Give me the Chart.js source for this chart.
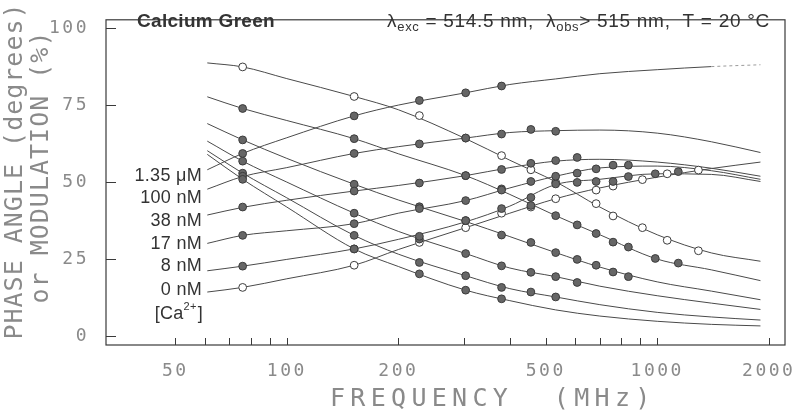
<!DOCTYPE html>
<html>
<head>
<meta charset="utf-8">
<script src="https://cdn.jsdelivr.net/npm/chart.js@4.4.1/dist/chart.umd.min.js"></script>
<style>
  html, body { margin: 0; background: #fff; }
  #wrap { width: 800px; height: 417px; }
</style>
</head>
<body>
<div id="wrap"><canvas id="phaseChart"></canvas></div>
<script>
// modulation frequencies (harmonics of the laser) where data were taken, MHz
const harmFreq = [76, 152, 228, 304, 380, 456, 532, 608, 684, 760, 836, 912, 988, 1064, 1140, 1216, 1292];
const curveFreq = [61, 76, 100, 152, 200, 304, 400, 532, 700, 1000, 1400, 1900];

const xTickVals = [50, 60, 70, 80, 90, 100, 200, 300, 400, 500, 600, 700, 800, 900, 1000, 2000];
const xTickLabels = [50, 100, 200, 500, 1000, 2000];
const yTickVals = [0, 25, 50, 75, 100];

const concLabels = ["1.35 μM", "100 nM", "38 nM", "17 nM", "8 nM", "0 nM"];

// measured points (phase in degrees, modulation in %)
const phase1350 = [59.4, 71.6, 76.6, 79.1, 81.3];
const mod1350 = [51.0, 28.4, 20.3, 15.0, 12.2];
const phase100 = [52.0, 59.4, 62.5, 64.4, 65.7, 67.2, 66.6];
const mod100 = [53.0, 32.8, 24.0, 19.7, 15.9, 14.4, 12.8];
const phase38 = [42.0, 47.2, 49.8, 52.2, 54.2, 56.2, 57.1, 58.1];
const mod38 = [56.9, 40.0, 32.5, 26.9, 22.9, 20.8, 19.4, 17.5];
const phase17 = [32.8, 36.6, 41.5, 44.1, 47.5, 50.3, 52.0, 53.0, 54.4, 55.6, 55.6];
const mod17 = [63.8, 49.4, 42.1, 37.6, 32.9, 30.5, 27.2, 25.0, 23.1, 20.9, 19.4];
const phase8 = [22.8, 28.4, 31.6, 37.6, 41.5, 45.1, 49.5, 50.0, 50.3, 50.3, 51.9, null, 52.8, null, 53.5];
const mod8 = [74.0, 64.2, null, 52.2, 47.9, 42.5, 39.2, 36.2, 33.4, 30.6, 29.0, null, 25.3, null, 23.8];
const phase0 = [15.9, 23.1, 30.5, 35.3, 40.0, 42.0, 44.7, null, 47.5, 48.8, null, 50.9, null, 52.8, null, null, 54.0];
const mod0 = [87.5, 77.9, 71.7, 64.4, 58.7, 54.1, 50.0, null, 43.1, 39.1, null, 35.3, null, 31.2, null, null, 27.8];

// fitted curves
const phaseFit1350 = [54.1, 59.4, 64.5, 71.6, 75.1, 79.1, 81.8, 83.6, 85.3, 86.6, 87.6, 88.2];
const phaseFit100 = [47.8, 51.9, 54.8, 59.4, 61.6, 64.4, 66.2, 66.8, 67.0, 66.0, 63.2, 59.7];
const phaseFit38 = [39.4, 41.9, 44.2, 47.2, 49.0, 52.2, 54.8, 56.9, 57.5, 56.6, 54.6, 52.0];
const phaseFit17 = [30.2, 32.8, 34.3, 36.6, 40.0, 44.1, 48.2, 52.0, 54.7, 55.3, 53.8, 51.0];
const phaseFit8 = [21.3, 22.8, 25.0, 28.4, 31.5, 37.2, 42.3, 49.3, 51.0, 52.8, 52.6, 50.3];
const phaseFit0 = [14.4, 15.9, 18.7, 23.1, 28.2, 35.3, 40.0, 44.7, 48.2, 51.7, 54.5, 56.6];
const modFit0 = [88.8, 87.5, 83.7, 77.9, 73.6, 64.2, 57.2, 50.2, 42.0, 33.0, 27.1, 24.4];
const modFit8 = [77.8, 74.0, 70.1, 64.2, 59.3, 52.2, 46.1, 39.2, 33.0, 25.1, 21.6, 18.1];
const modFit17 = [69.1, 63.8, 57.8, 49.4, 44.3, 37.3, 32.4, 27.2, 22.5, 17.7, 14.7, 11.9];
const modFit38 = [63.4, 56.9, 50.1, 40.0, 34.1, 26.9, 22.2, 19.4, 16.3, 13.2, 10.8, 8.75];
const modFit100 = [60.3, 53.0, 45.0, 32.8, 26.7, 19.7, 15.5, 12.8, 10.3, 7.8, 6.3, 5.3];
const modFit1350 = [59.1, 51.0, 42.0, 28.4, 22.7, 15.0, 11.6, 8.6, 6.6, 4.9, 3.9, 3.4];

const plotFont = "DejaVu Sans Mono";
const grey = "#8a8a8a";

function fitLine(vals, fadeEnd) {
    const last = vals.length - 1;
    return {
        data: vals.map((v, i) => ({ x: curveFreq[i], y: v })),
        showLine: true,
        borderColor: "#4a4a4a",
        borderWidth: 1,
        pointRadius: 0,
        cubicInterpolationMode: "monotone",
        segment: fadeEnd ? {
            borderDash: c => c.p1DataIndex === last ? [3, 3] : undefined,
            borderColor: c => c.p1DataIndex === last ? "#9a9a9a" : undefined
        } : {},
        order: 2
    };
}

function marks(vals, open) {
    return {
        data: vals.map((v, i) => ({ x: harmFreq[i], y: v })).filter(p => p.y !== null),
        showLine: false,
        pointRadius: 3.9,
        backgroundColor: open ? "#ffffff" : "#666666",
        borderColor: "#3c3c3c",
        borderWidth: 1,
        order: 1
    };
}

const decor = {
    id: "decor",
    beforeDraw(chart) {
        chart.ctx.letterSpacing = "2.5px";
    },
    beforeDatasetsDraw(chart) {
        const { ctx, chartArea: a, scales: { x, y } } = chart;
        ctx.save();
        ctx.strokeStyle = "#3a3a3a";
        ctx.lineWidth = 1.2;
        ctx.strokeRect(a.left, a.top, a.right - a.left, a.bottom - a.top);
        ctx.lineWidth = 1;
        ctx.beginPath();
        x.ticks.forEach(t => {
            const px = Math.round(x.getPixelForValue(t.value)) + 0.5;
            ctx.moveTo(px, a.bottom);
            ctx.lineTo(px, a.bottom - 7);
        });
        y.ticks.forEach(t => {
            const py = Math.round(y.getPixelForValue(t.value)) + 0.5;
            ctx.moveTo(a.left, py);
            ctx.lineTo(a.left + 10, py);
        });
        ctx.stroke();
        ctx.restore();
    },
    afterDraw(chart) {
        const { ctx, scales: { y } } = chart;
        ctx.save();

        // axis titles
        ctx.fillStyle = grey;
        ctx.font = "25px " + plotFont;
        ctx.letterSpacing = "1px";
        ctx.textAlign = "center";
        ctx.textBaseline = "middle";
        ctx.save();
        ctx.translate(15, 171);
        ctx.rotate(-Math.PI / 2);
        ctx.fillText("PHASE ANGLE (degrees)", 0, 0);
        ctx.restore();
        ctx.save();
        ctx.translate(41, 167);
        ctx.rotate(-Math.PI / 2);
        ctx.fillText("or MODULATION (%)", 0, 0);
        ctx.restore();
        ctx.letterSpacing = "5.3px";
        ctx.textAlign = "left";
        ctx.fillText("FREQUENCY  (MHz)", 330, 399);

        // header texts
        ctx.fillStyle = "#333";
        ctx.letterSpacing = "0.3px";
        ctx.font = "bold 19px 'Liberation Sans'";
        ctx.fillText("Calcium Green", 137, 22);

        const parts = [
            ["λ", 0], ["exc", 1], [" = 514.5 nm,  λ", 0], ["obs", 1], ["> 515 nm,  T = 20 °C", 0]
        ];
        let cx = 387;
        ctx.letterSpacing = "0.7px";
        parts.forEach(([txt, sub]) => {
            ctx.font = sub ? "13px 'Liberation Sans'" : "19px 'Liberation Sans'";
            ctx.fillText(txt, cx, sub ? 27 : 22);
            cx += ctx.measureText(txt).width;
        });

        // concentration labels next to the phase curves
        const rows = [52, 44.8, 37.5, 30.0, 22.8, 15.0];
        ctx.font = "18px 'Liberation Sans'";
        ctx.letterSpacing = "0.3px";
        ctx.textAlign = "right";
        concLabels.forEach((t, i) => ctx.fillText(t, 202, y.getPixelForValue(rows[i])));

        // [Ca2+]
        const yCa = y.getPixelForValue(7.3);
        ctx.textAlign = "left";
        const w1 = ctx.measureText("[Ca").width;
        ctx.font = "11px 'Liberation Sans'";
        const w2 = ctx.measureText("2+").width;
        ctx.font = "18px 'Liberation Sans'";
        const w3 = ctx.measureText("]").width;
        let sx = 202 - (w1 + w2 + w3);
        ctx.fillText("[Ca", sx, yCa);
        ctx.font = "11px 'Liberation Sans'";
        ctx.fillText("2+", sx + w1, yCa - 7);
        ctx.font = "18px 'Liberation Sans'";
        ctx.fillText("]", sx + w1 + w2 + 1, yCa);

        ctx.restore();
    }
};

new Chart(document.getElementById("phaseChart"), {

    type: "scatter",

    data: {
        datasets: [
            fitLine(phaseFit1350, true), fitLine(phaseFit100), fitLine(phaseFit38),
            fitLine(phaseFit17), fitLine(phaseFit8), fitLine(phaseFit0),
            fitLine(modFit0), fitLine(modFit8), fitLine(modFit17),
            fitLine(modFit38), fitLine(modFit100), fitLine(modFit1350),
            marks(phase1350), marks(mod1350), marks(phase100), marks(mod100),
            marks(phase38), marks(mod38), marks(phase17), marks(mod17),
            marks(phase8), marks(mod8), marks(phase0, true), marks(mod0, true)
        ]
    },

    options: {
        responsive: true,
        maintainAspectRatio: false,
        devicePixelRatio: 1,
        animation: false,
        layout: { padding: { left: 0, right: 15, top: 7, bottom: 0 } },
        plugins: {
            legend: { display: false },
            tooltip: { enabled: false }
        },
        scales: {
            x: {
                type: "logarithmic",
                min: 32.5,
                max: 2213,
                bounds: "data",
                afterBuildTicks: s => { s.ticks = xTickVals.map(v => ({ value: v })); },
                afterFit: s => { s.height = 72; },
                grid: { display: false },
                border: { display: false },
                ticks: {
                    autoSkip: false,
                    maxRotation: 0,
                    padding: 8,
                    color: grey,
                    font: { family: plotFont, size: 18 },
                    callback: v => xTickLabels.includes(v) ? String(v) : ""
                }
            },
            y: {
                min: -2.8,
                max: 102.8,
                bounds: "data",
                afterBuildTicks: s => { s.ticks = yTickVals.map(v => ({ value: v })); },
                afterFit: s => { s.width = 106; },
                grid: { display: false },
                border: { display: false },
                ticks: {
                    padding: 9,
                    color: grey,
                    font: { family: plotFont, size: 18 }
                }
            }
        }
    },

    plugins: [decor]

});
</script>
</body>
</html>
